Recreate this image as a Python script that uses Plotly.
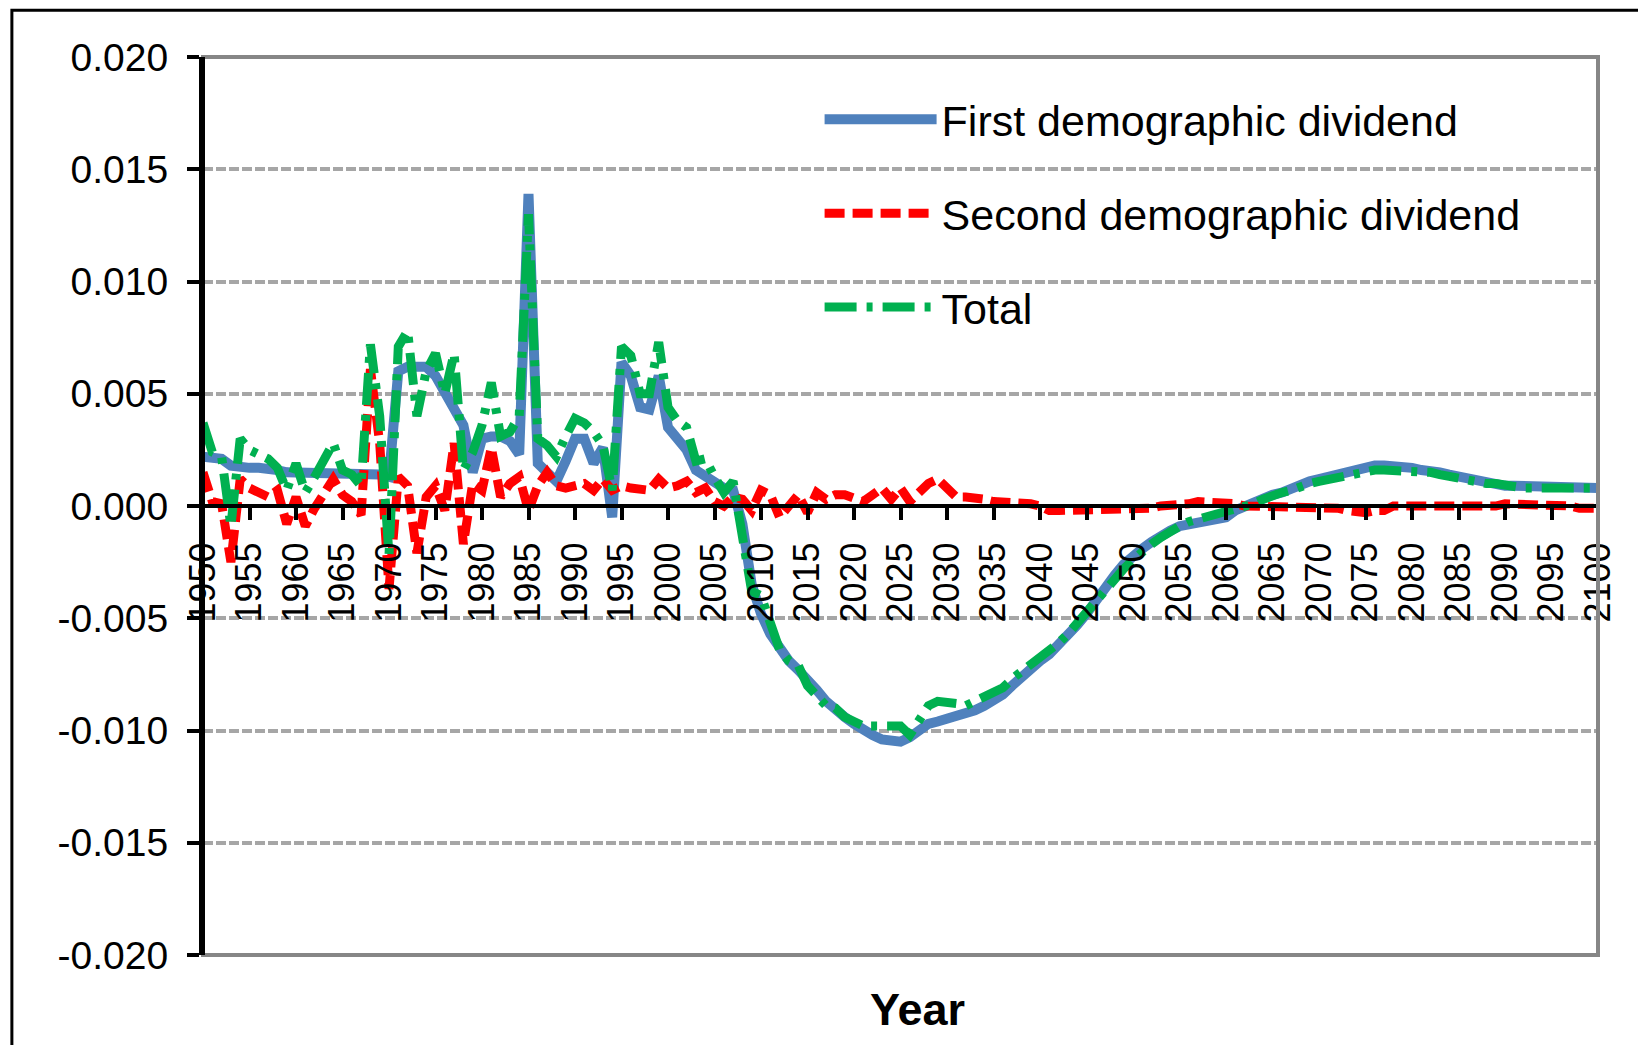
import plotly.graph_objects as go

# ── Data ─────────────────────────────────────────────────────────
years = list(range(1950, 2101))

first_dividend = [
    0.0022, 0.0022, 0.0021, 0.0018, 0.0017, 0.0017, 0.0017, 0.0017, 0.0016, 0.0015,
    0.0015, 0.0015, 0.0015, 0.0014, 0.0014, 0.0014, 0.0014, 0.0014, 0.0014, 0.0014,
    0.0013, 0.0060, 0.0062, 0.0062, 0.0062, 0.0058, 0.0051, 0.0044, 0.0036, 0.0015,
    0.0030, 0.0031, 0.0031, 0.0029, 0.0023, 0.0139, 0.0019, 0.0015, 0.0011, 0.0020,
    0.0030, 0.0030, 0.0019, 0.0026, -0.0005, 0.0064, 0.0058, 0.0044, 0.0043, 0.0058,
    0.0035, 0.0030, 0.0025, 0.0016, 0.0013, 0.0011, 0.0008, 0.0007, -0.0008, -0.0035,
    -0.0048, -0.0057, -0.0064, -0.0069, -0.0073, -0.0077, -0.0082, -0.0087, -0.0091, -0.0094,
    -0.0097, -0.0100, -0.0102, -0.0104, -0.0105, -0.0105, -0.0103, -0.0100, -0.0097, -0.0096,
    -0.0095, -0.0093, -0.0092, -0.0091, -0.0089, -0.0087, -0.0084, -0.0080, -0.0076, -0.0072,
    -0.0069, -0.0066, -0.0062, -0.0058, -0.0053, -0.0048, -0.0042, -0.0036, -0.0031, -0.0026,
    -0.0022, -0.0019, -0.0016, -0.0013, -0.0011, -0.0009, -0.0008, -0.0007, -0.0006, -0.0006,
    -0.0005, -0.0002, 0.0000, 0.0002, 0.0003, 0.0005, 0.0006, 0.0008, 0.0009, 0.0011,
    0.0012, 0.0013, 0.0015, 0.0016, 0.0017, 0.0018, 0.0018, 0.0018, 0.0018, 0.0018,
    0.0017, 0.0016, 0.0016, 0.0015, 0.0014, 0.0013, 0.0012, 0.0011, 0.0011, 0.0010,
    0.0009, 0.0009, 0.0009, 0.0008, 0.0008, 0.0008, 0.0008, 0.0008, 0.0008, 0.0008,
    0.0008,
]

second_dividend = [
    0.0015, 0.0002, 0.0001, -0.0025, 0.0012, 0.0008, 0.0006, 0.0004, 0.0007, -0.0008,
    0.0004, -0.0009, -0.0001, 0.0006, 0.0012, 0.0005, 0.0002, -0.0004, 0.0061, 0.0028,
    -0.0037, 0.0013, 0.0009, -0.0021, 0.0004, 0.0009, -0.0002, 0.0028, -0.0017, 0.0010,
    0.0007, 0.0026, 0.0004, 0.0010, 0.0013, -0.0002, 0.0009, 0.0015, 0.0009, 0.0008,
    0.0009, 0.0010, 0.0007, 0.0012, 0.0007, 0.0009, 0.0008, 0.0007, 0.0007, 0.0012,
    0.0008, 0.0009, 0.0011, 0.0006, 0.0008, 0.0002, 0.0000, 0.0004, 0.0003, -0.0002,
    0.0007, 0.0005, -0.0005, 0.0000, 0.0005, -0.0003, 0.0006, 0.0003, 0.0005, 0.0005,
    0.0004, 0.0002, 0.0005, 0.0008, 0.0003, 0.0008, 0.0002, 0.0006, 0.0010, 0.0012,
    0.0008, 0.0004, 0.0004, 0.0004, 0.0003, 0.0002, 0.0002, 0.0001, 0.0001, 0.0001,
    0.0000, -0.0002, -0.0002, -0.0002, -0.0002, -0.0002, -0.0002, -0.0002, -0.0002, -0.0002,
    -0.0002, -0.0001, -0.0001, 0.0000, 0.0000, 0.0001, 0.0001, 0.0002, 0.0002, 0.0002,
    0.0002, 0.0001, 0.0000, 0.0000, 0.0000, 0.0000, -0.0001, -0.0001, -0.0001, -0.0001,
    -0.0001, -0.0001, -0.0001, -0.0002, -0.0003, -0.0003, -0.0002, -0.0002, 0.0000, 0.0000,
    0.0000, -0.0001, -0.0001, -0.0001, -0.0001, -0.0001, -0.0001, -0.0001, -0.0001, 0.0000,
    0.0001, 0.0001, 0.0001, 0.0001, 0.0001, 0.0000, 0.0000, 0.0000, -0.0001, -0.0001,
    -0.0001,
]

total = [
    0.0037, 0.0024, 0.0022, -0.0009, 0.0030, 0.0025, 0.0023, 0.0021, 0.0017, 0.0007,
    0.0019, 0.0006, 0.0013, 0.0020, 0.0028, 0.0016, 0.0014, 0.0009, 0.0072, 0.0040,
    -0.0022, 0.0071, 0.0078, 0.0040, 0.0060, 0.0068, 0.0050, 0.0068, 0.0016, 0.0024,
    0.0036, 0.0055, 0.0031, 0.0033, 0.0040, 0.0130, 0.0030, 0.0027, 0.0022, 0.0031,
    0.0039, 0.0037, 0.0033, 0.0027, 0.0007, 0.0071, 0.0067, 0.0050, 0.0050, 0.0073,
    0.0044, 0.0038, 0.0035, 0.0020, 0.0021, 0.0013, 0.0006, 0.0011, -0.0015, -0.0038,
    -0.0040, -0.0052, -0.0064, -0.0069, -0.0071, -0.0080, -0.0085, -0.0089, -0.0090, -0.0094,
    -0.0096, -0.0098, -0.0098, -0.0098, -0.0098, -0.0098, -0.0102, -0.0095, -0.0089, -0.0087,
    -0.0087, -0.0088, -0.0089, -0.0087, -0.0085, -0.0083, -0.0081, -0.0077, -0.0074, -0.0071,
    -0.0068, -0.0064, -0.0061, -0.0057, -0.0052, -0.0047, -0.0042, -0.0037, -0.0033, -0.0028,
    -0.0024, -0.0020, -0.0017, -0.0014, -0.0011, -0.0009, -0.0007, -0.0006, -0.0004, -0.0004,
    -0.0003, -0.0001, 0.0000, 0.0001, 0.0003, 0.0005, 0.0006, 0.0007, 0.0009, 0.0010,
    0.0011, 0.0012, 0.0013, 0.0014, 0.0015, 0.0016, 0.0016, 0.0016, 0.0016, 0.0016,
    0.0015, 0.0015, 0.0015, 0.0014, 0.0013, 0.0012, 0.0011, 0.0011, 0.0010, 0.0010,
    0.0009, 0.0009, 0.0008, 0.0008, 0.0008, 0.0008, 0.0008, 0.0008, 0.0008, 0.0008,
    0.0008,
]

x_ticks = years[::5]
y_ticks = [-0.020, -0.015, -0.010, -0.005, 0.000, 0.005, 0.010, 0.015, 0.020]
y_tick_text = ["-0.020", "-0.015", "-0.010", "-0.005", "0.000", "0.005", "0.010", "0.015", "0.020"]

series = [
    ("First demographic dividend", first_dividend, "#4F81BD", "solid", 10),
    ("Second demographic dividend", second_dividend, "#FF0000", "20px,8px", 9),
    ("Total", total, "#00B050", "32px,10px,6px,10px", 9),
]

FONT = "Liberation Sans, Arial, sans-serif"

fig = go.Figure()
for name, vals, colour, dash, width in series:
    fig.add_trace(
        go.Scatter(
            x=years,
            y=vals,
            mode="lines",
            name=name,
            legendgroup=name,
            line=dict(color=colour, width=width, dash=dash),
        )
    )

# page body has an 8px margin, so the figure is a bit smaller than the window
fig.update_layout(
    width=1630,
    height=1037,
    margin=dict(l=195, r=40, t=49, b=90),
    paper_bgcolor="white",
    plot_bgcolor="white",
    font=dict(family=FONT, color="black", size=38),
    showlegend=True,
    legend=dict(
        x=0.442,
        y=0.969,
        xanchor="left",
        yanchor="top",
        bgcolor="rgba(0,0,0,0)",
        font=dict(size=43, family=FONT),
        itemwidth=112,
        tracegroupgap=35,
    ),
    xaxis=dict(
        range=[1950, 2100],
        tickmode="array",
        tickvals=x_ticks,
        ticktext=[str(v) for v in x_ticks],
        tickangle=-90,
        ticks="outside",
        ticklen=12,
        tickwidth=4,
        tickcolor="black",
        showline=True,
        linecolor="black",
        linewidth=4,
        showgrid=False,
        zeroline=False,
        anchor="free",
        position=0.5,
        tickfont=dict(size=36),
        ticklabelstandoff=8,
    ),
    yaxis=dict(
        range=[-0.02, 0.02],
        tickmode="array",
        tickvals=y_ticks,
        ticktext=y_tick_text,
        ticks="outside",
        ticklen=12,
        tickwidth=4,
        tickcolor="black",
        showline=True,
        linecolor="black",
        linewidth=4,
        showgrid=True,
        gridcolor="#A6A6A6",
        gridwidth=4,
        griddash="10px,3px",
        zeroline=False,
        tickfont=dict(size=39),
        ticklabelstandoff=11,
    ),
)

# plot-area border (grey) and outer chart border (black, cropped)
fig.add_shape(type="rect", xref="paper", yref="paper", x0=0, x1=1, y0=0, y1=1,
              line=dict(color="#868686", width=4), layer="above")
fig.add_shape(type="line", xref="paper", yref="paper", x0=0, x1=0, y0=0, y1=1,
              line=dict(color="black", width=4), layer="above")
fig.add_shape(type="rect", xref="paper", yref="paper", x0=-0.137, x1=1.4, y0=-0.4, y1=1.052,
              line=dict(color="black", width=3), layer="above")

fig.add_annotation(
    text="<b>Year</b>", xref="paper", yref="paper", x=0.5125, y=-0.061,
    showarrow=False, font=dict(size=45, family=FONT), xanchor="center", yanchor="middle",
)

fig.write_html("out.html")
